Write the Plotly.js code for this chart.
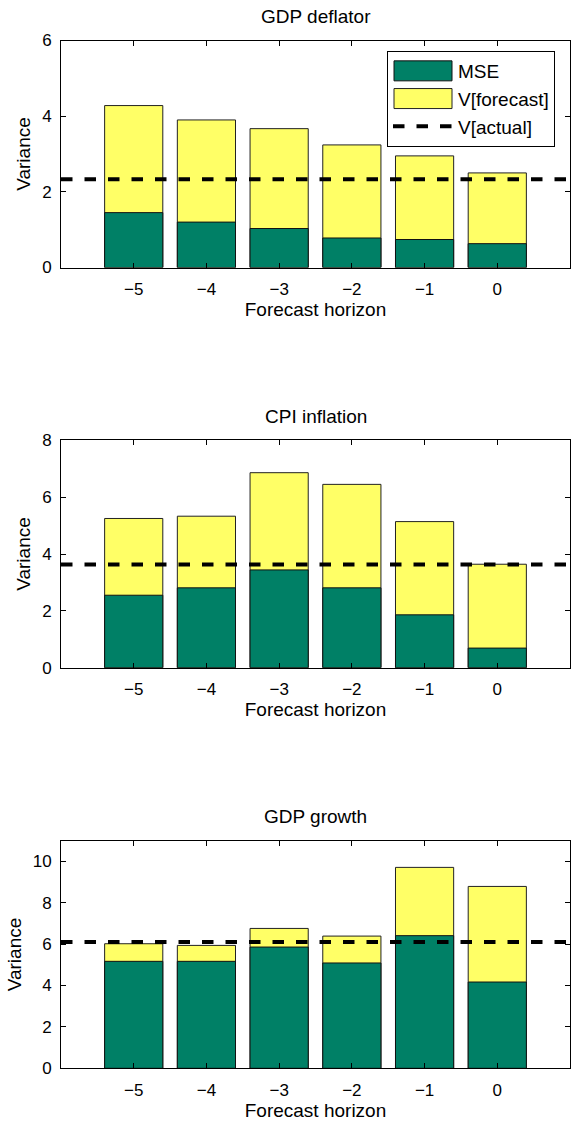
<!DOCTYPE html>
<html>
<head>
<meta charset="utf-8">
<script src="https://cdn.plot.ly/plotly-3.0.1.min.js"></script>
<style>html,body{margin:0;padding:0;background:#fff;}#chart{width:573px;height:1127px;}</style>
</head>
<body>
<div id="chart"></div>
<script>
// ---- data ----
const horizons = [-5, -4, -3, -2, -1, 0];
const panelTitles = ["GDP deflator", "CPI inflation", "GDP growth"];

const gdpDeflatorMSE = [1.45, 1.20, 1.03, 0.78, 0.74, 0.63];
const gdpDeflatorVForecast = [4.28, 3.90, 3.67, 3.24, 2.95, 2.50];
const gdpDeflatorVActual = 2.33;

const cpiInflationMSE = [2.55, 2.81, 3.44, 2.81, 1.86, 0.69];
const cpiInflationVForecast = [5.25, 5.33, 6.86, 6.45, 5.14, 3.64];
const cpiInflationVActual = 3.63;

const gdpGrowthMSE = [5.17, 5.17, 5.86, 5.09, 6.41, 4.17];
const gdpGrowthVForecast = [6.02, 5.94, 6.76, 6.39, 9.71, 8.79];
const gdpGrowthVActual = 6.10;

const xRange = [-6, 1];
const yRanges = [[0, 6], [0, 8], [0, 11]];
const yTickVals = [[0, 2, 4, 6], [0, 2, 4, 6, 8], [0, 2, 4, 6, 8, 10]];

const mseSeries = [gdpDeflatorMSE, cpiInflationMSE, gdpGrowthMSE];
const vfSeries = [gdpDeflatorVForecast, cpiInflationVForecast, gdpGrowthVForecast];
const vaSeries = [gdpDeflatorVActual, cpiInflationVActual, gdpGrowthVActual];

// ---- styles ----
const FONT = "Liberation Sans, Arial, Helvetica, sans-serif";
const GREEN = "#008066";
const YELLOW = "#FFFF66";
const H = 1127;
const TICK_SIZE = 17, LABEL_SIZE = 19;
// panel pixel top/bottom of plot area
const panelPx = [[40.5, 267.5], [440.3, 667.7], [840.7, 1068.3]];

const traces = [];
const layout = {
  width: 573, height: H,
  margin: {l: 61, r: 3, t: 0, b: 0},
  paper_bgcolor: "#fff", plot_bgcolor: "#fff",
  barmode: "overlay",
  font: {family: FONT, size: TICK_SIZE, color: "#000"},
  showlegend: true,
  legend: {
    x: (387 - 61) / 509, y: 1 - 51 / H, xanchor: "left", yanchor: "top",
    bgcolor: "#fff", bordercolor: "#000", borderwidth: 1,
    font: {family: FONT, size: LABEL_SIZE, color: "#000"},
    tracegroupgap: 0, itemwidth: 60
  },
  annotations: []
};

for (let p = 0; p < 3; p++) {
  const sfx = p === 0 ? "" : String(p + 1);
  const xa = "x" + sfx, ya = "y" + sfx;
  const yDom = [(H - panelPx[p][1]) / H, (H - panelPx[p][0]) / H];
  const showL = p === 0;

  traces.push({
    type: "bar", x: horizons, y: vfSeries[p], xaxis: xa, yaxis: ya,
    name: "V[forecast]", legendrank: 2, showlegend: showL, width: 0.8,
    marker: {color: YELLOW, line: {color: "#222", width: 1}}
  });
  traces.push({
    type: "bar", x: horizons, y: mseSeries[p], xaxis: xa, yaxis: ya,
    name: "MSE", legendrank: 1, showlegend: showL, width: 0.8,
    marker: {color: GREEN, line: {color: "#111", width: 1}}
  });
  traces.push({
    type: "scatter", mode: "lines", x: xRange, y: [vaSeries[p], vaSeries[p]],
    xaxis: xa, yaxis: ya, name: "V[actual]", legendrank: 3, showlegend: showL,
    line: {color: "#000", width: 4, dash: "11.5px,12px"}
  });

  const axCommon = {
    showline: true, linecolor: "#000", linewidth: 1, mirror: "ticks",
    ticks: "inside", ticklen: 5, tickcolor: "#000", tickwidth: 1,
    showgrid: false, zeroline: false, fixedrange: true,
    tickfont: {family: FONT, size: TICK_SIZE, color: "#000"}
  };
  layout["xaxis" + sfx] = Object.assign({}, axCommon, {
    domain: [0, 1], anchor: ya, range: xRange,
    tickvals: horizons, ticklabelstandoff: 6,
    title: {text: "Forecast horizon", font: {family: FONT, size: LABEL_SIZE, color: "#000"}, standoff: 0}
  });
  layout["yaxis" + sfx] = Object.assign({}, axCommon, {
    domain: yDom, anchor: xa, range: yRanges[p], tickvals: yTickVals[p],
    ticklabelstandoff: 5,
    title: {text: "Variance", font: {family: FONT, size: LABEL_SIZE, color: "#000"}, standoff: 6}
  });
  layout.annotations.push({
    text: panelTitles[p], xref: "paper", yref: "paper",
    x: (315.5 - 61) / 509, y: 1 - 4 / H - (panelPx[p][0] - 40.5) / H, xanchor: "center", yanchor: "top",
    showarrow: false, font: {family: FONT, size: LABEL_SIZE, color: "#000"}
  });
}

Plotly.newPlot("chart", traces, layout, {displayModeBar: false, staticPlot: true}).then(function (gd) {
  // widen legend swatches to MATLAB-like rectangles
  gd.querySelectorAll(".legend .legendpoints path").forEach(function (el) {
    const d = el.getAttribute("d") || "";
    if (/^M6,6H-6V-6H6Z$/.test(d.replace(/\s/g, ""))) {
      el.setAttribute("d", "M29,10H-29V-10H29Z");
    }
  });
});
</script>
</body>
</html>
